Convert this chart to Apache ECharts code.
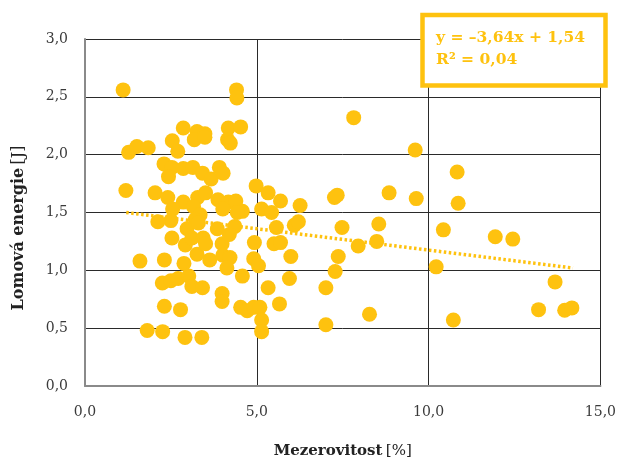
<!DOCTYPE html>
<html>
<head>
<meta charset="utf-8">
<script src="https://cdn.jsdelivr.net/npm/echarts@6/dist/echarts.min.js"></script>
<style>html,body{margin:0;padding:0;background:#fff}#c{width:619px;height:464px}</style>
</head>
<body>
<div id="c"></div>
<script>
// Mezerovitost [%]
var porosity = [
1.11,1.27,1.51,1.84,1.19,2.04,2.41,2.54,2.70,2.86,3.26,3.49,3.18,3.49,4.41,4.42,4.17,4.53,4.15,4.23,
2.30,2.53,2.43,2.86,3.14,3.42,3.67,3.91,4.02,4.98,5.33,5.69,6.26,7.26,7.34,7.82,9.61,10.83,10.86,9.64,
8.85,2.86,3.28,3.51,3.87,4.17,4.39,4.58,5.14,5.43,2.55,4.01,3.16,3.35,3.21,2.50,2.12,1.60,2.31,2.53,
2.97,2.92,3.11,3.26,2.88,3.44,3.51,3.30,3.63,3.85,3.99,4.01,4.22,4.13,4.36,4.20,4.43,4.58,4.93,4.91,
5.05,5.57,5.50,5.69,5.99,5.95,6.09,6.21,5.33,5.66,2.25,2.50,2.71,3.02,3.11,3.42,3.99,3.99,2.31,2.78,
4.53,4.72,4.91,5.09,5.14,5.14,1.81,2.26,2.91,3.40,7.01,7.01,7.28,7.37,7.48,8.55,8.49,7.95,10.43,11.94,
12.45,10.22,13.68,13.20,13.96,14.17,10.72,8.28
];
// Lomová energie [J]
var energy = [
2.56,2.02,2.07,2.06,1.69,1.67,1.63,2.12,2.03,2.23,2.20,2.18,2.13,2.15,2.56,2.49,2.23,2.24,2.13,2.10,
1.92,1.89,1.81,1.88,1.89,1.84,1.79,1.89,1.84,1.73,1.67,1.60,1.56,1.63,1.65,2.32,2.04,1.85,1.58,1.62,
1.67,1.59,1.63,1.67,1.61,1.59,1.60,1.51,1.53,1.50,1.53,1.53,1.55,1.48,1.44,1.43,1.42,1.08,1.09,1.28,
1.36,1.22,1.28,1.14,1.06,1.28,1.23,1.41,1.09,1.36,1.23,1.13,1.11,1.02,1.38,1.31,1.50,0.95,1.24,1.10,
1.04,1.37,1.23,1.24,1.12,0.93,1.39,1.42,0.85,0.71,0.89,0.91,0.93,0.95,0.86,0.85,0.80,0.73,0.69,0.66,
0.68,0.65,0.68,0.68,0.57,0.47,0.48,0.47,0.42,0.42,0.85,0.53,0.99,1.12,1.37,1.40,1.25,1.21,1.35,1.29,
1.27,1.03,0.90,0.66,0.655,0.675,0.57,0.62
];
// lineární trend (koncové body)
var trendX = [1.2, 14.2];
var trendY = [1.50, 1.02];
var xTicks = [0, 5, 10, 15];
var yTicks = [0, 0.5, 1, 1.5, 2, 2.5, 3];
var eqLine1 = 'y = –3,64x + 1,54';
var eqLine2 = 'R² = 0,04';
var yTitle = '{b|Lomová energie} {r|[J]}';
var xTitle = '{b|Mezerovitost} {r|[%]}';

var gold = '#FEC20F';
var fmt = function (v) { return v.toFixed(1).replace('.', ','); };
var scatterData = porosity.map(function (x, i) { return [x, energy[i]]; });
var trendData = trendX.map(function (x, i) { return [x, trendY[i]]; });

var chart = echarts.init(document.getElementById('c'));
chart.setOption({
  animation: false,
  backgroundColor: '#fff',
  grid: { left: 85, right: 4, top: 39, bottom: 71 },
  xAxis: {
    type: 'value', min: xTicks[0], max: xTicks[xTicks.length - 1], interval: 5,
    axisLine: { show: true, lineStyle: { color: '#8a8a8a', width: 2 } },
    axisTick: { show: false },
    splitLine: { show: true, lineStyle: { color: '#2a2a2a', width: 1 } },
    axisLabel: { formatter: fmt, margin: 19, color: '#3a3a3a', fontFamily: 'DejaVu Serif', fontSize: 14 },
    name: xTitle,
    nameLocation: 'middle', nameGap: 58,
    nameTextStyle: {
      rich: {
        b: { fontFamily: 'DejaVu Serif', fontWeight: 'bold', fontSize: 15, color: '#222' },
        r: { fontFamily: 'DejaVu Serif', fontSize: 15, color: '#222' }
      }
    }
  },
  yAxis: {
    type: 'value', min: yTicks[0], max: yTicks[yTicks.length - 1], interval: 0.5,
    axisLine: { show: true, lineStyle: { color: '#8a8a8a', width: 2 } },
    axisTick: { show: false },
    splitLine: { show: true, lineStyle: { color: '#2a2a2a', width: 1 } },
    axisLabel: { formatter: fmt, margin: 17, color: '#3a3a3a', fontFamily: 'DejaVu Serif', fontSize: 14 }
  },
  series: [
    {
      type: 'line', data: trendData, symbol: 'none', z: 1, silent: true,
      lineStyle: { color: gold, width: 3.5, type: [2.5, 2.5], cap: 'butt' }
    },
    {
      type: 'scatter', data: scatterData, symbolSize: 15, z: 2,
      itemStyle: { color: gold, opacity: 1 }
    }
  ],
  graphic: [
    {
      type: 'text', x: 19, y: 228, rotation: Math.PI / 2,
      style: {
        text: yTitle, align: 'center', verticalAlign: 'middle',
        rich: {
          b: { fontFamily: 'DejaVu Serif', fontWeight: 'bold', fontSize: 16, fill: '#222' },
          r: { fontFamily: 'DejaVu Serif', fontSize: 16, fill: '#222' }
        }
      }
    },
    {
      type: 'rect', z: 100,
      shape: { x: 422.5, y: 15, width: 183, height: 70.5 },
      style: { fill: '#fff', stroke: gold, lineWidth: 4.5 }
    },
    {
      type: 'text', z: 101, left: 436, top: 30,
      style: { text: eqLine1, fill: gold, font: 'bold 15.5px "DejaVu Serif"' }
    },
    {
      type: 'text', z: 101, left: 436, top: 52,
      style: { text: eqLine2, fill: gold, font: 'bold 15.5px "DejaVu Serif"' }
    }
  ]
});
</script>
</body>
</html>
